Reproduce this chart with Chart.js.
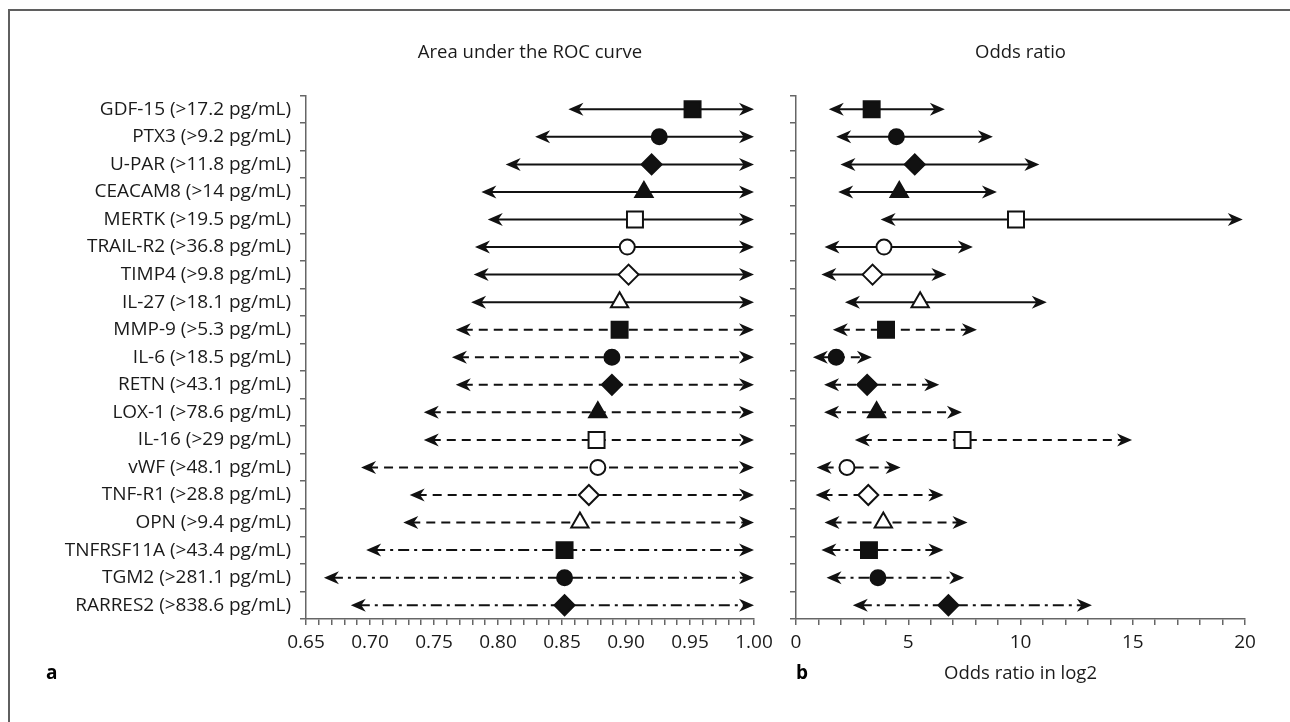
<!DOCTYPE html>
<html>
<head>
<meta charset="utf-8">
<script src="https://cdn.jsdelivr.net/npm/chart.js@4.4.1/dist/chart.umd.min.js"></script>
<style>
    html, body { margin: 0; background: #fff; overflow: hidden; }
    #wrap { position: relative; width: 1290px; height: 722px; }
    canvas { position: absolute; top: 0; }
    #auc-chart { left: 0; }
    #or-chart { left: 780px; }
</style>
</head>
<body>
<div id="wrap">
    <canvas id="auc-chart" width="780" height="722"></canvas>
    <canvas id="or-chart" width="510" height="722"></canvas>
</div>
<script>
// biomarker labels (with cut-off values)
const markers = [
    "GDF-15 (>17.2 pg/mL)", "PTX3 (>9.2 pg/mL)", "U-PAR (>11.8 pg/mL)", "CEACAM8 (>14 pg/mL)",
    "MERTK (>19.5 pg/mL)", "TRAIL-R2 (>36.8 pg/mL)", "TIMP4 (>9.8 pg/mL)", "IL-27 (>18.1 pg/mL)",
    "MMP-9 (>5.3 pg/mL)", "IL-6 (>18.5 pg/mL)", "RETN (>43.1 pg/mL)", "LOX-1 (>78.6 pg/mL)",
    "IL-16 (>29 pg/mL)", "vWF (>48.1 pg/mL)", "TNF-R1 (>28.8 pg/mL)", "OPN (>9.4 pg/mL)",
    "TNFRSF11A (>43.4 pg/mL)", "TGM2 (>281.1 pg/mL)", "RARRES2 (>838.6 pg/mL)"
];

// area under the ROC curve, with confidence limits
const aucValue = [0.952, 0.926, 0.920, 0.914, 0.907, 0.901, 0.902, 0.895, 0.895, 0.889,
                  0.889, 0.878, 0.877, 0.878, 0.871, 0.864, 0.852, 0.852, 0.852];
const aucLower = [0.855, 0.829, 0.806, 0.787, 0.792, 0.782, 0.781, 0.779, 0.767, 0.764,
                  0.767, 0.742, 0.742, 0.693, 0.731, 0.726, 0.697, 0.664, 0.685];
const aucUpper = [1.00, 1.00, 1.00, 1.00, 1.00, 1.00, 1.00, 1.00, 1.00, 1.00,
                  1.00, 1.00, 1.00, 1.00, 1.00, 1.00, 1.00, 1.00, 1.00];

// odds ratio (log2), with confidence limits
const orValue = [3.37, 4.47, 5.29, 4.60, 9.80, 3.92, 3.41, 5.53, 4.01, 1.79,
                 3.17, 3.59, 7.42, 2.27, 3.22, 3.89, 3.25, 3.65, 6.79];
const orLower = [1.46, 1.79, 1.98, 1.88, 3.77, 1.27, 1.13, 2.18, 1.64, 0.75,
                 1.25, 1.25, 2.62, 0.92, 0.87, 1.27, 1.13, 1.36, 2.53];
const orUpper = [6.63, 8.77, 10.84, 8.95, 19.9, 7.88, 6.70, 11.17, 8.06, 3.38,
                 6.38, 7.39, 14.97, 4.66, 6.57, 7.64, 6.57, 7.49, 13.18];

// axis tick labels
const aucTicks = ["0.65", "0.70", "0.75", "0.80", "0.85", "0.90", "0.95", "1.00"];
const orTicks = ["0", "5", "10", "15", "20"];

// marker look per row
const shapes = ["rect", "circle", "rectRot", "triangle", "rect", "circle", "rectRot", "triangle",
                "rect", "circle", "rectRot", "triangle", "rect", "circle", "rectRot", "triangle",
                "rect", "circle", "rectRot"];
const filled = [true, true, true, true, false, false, false, false,
                true, true, true, true, false, false, false, false,
                true, true, true];
const lineStyles = ["solid", "solid", "solid", "solid", "solid", "solid", "solid", "solid",
                    "dash", "dash", "dash", "dash", "dash", "dash", "dash", "dash",
                    "dashdot", "dashdot", "dashdot"];

const FONT = "'Open Sans', sans-serif";
const TEXT = "#1a1a1a";
const AXIS = "#666";
const radiusFor = { rect: 11.3, circle: 7.5, rectRot: 10, triangle: 10 };
const dashes = { solid: [], dash: [9, 6], dashdot: [11, 5, 3, 5] };

// draws the whisker lines with arrow heads at both ends, plus panel title, letter and frame
const whiskerPlugin = {
    id: "whiskers",
    beforeDatasetsDraw(chart, args, opts) {
        const ctx = chart.ctx;
        const x = chart.scales.x, y = chart.scales.y;
        ctx.save();
        ctx.strokeStyle = "#111";
        ctx.fillStyle = "#111";
        ctx.lineWidth = 2;
        for (let i = 0; i < opts.lower.length; i++) {
            let yp = y.getPixelForValue(i);
            let x1 = x.getPixelForValue(opts.lower[i]);
            let x2 = x.getPixelForValue(opts.upper[i]);
            ctx.setLineDash(dashes[lineStyles[i]]);
            ctx.beginPath();
            ctx.moveTo(x1 + 8, yp);
            ctx.lineTo(x2 - 8, yp);
            ctx.stroke();
            ctx.setLineDash([]);
            arrowHead(ctx, x1, yp, 1);
            arrowHead(ctx, x2, yp, -1);
        }
        ctx.restore();
    },
    afterDraw(chart, args, opts) {
        const ctx = chart.ctx;
        const area = chart.chartArea;
        ctx.save();
        // outer frame (top edge, plus left edge on the first panel)
        ctx.strokeStyle = "#5f5f5f";
        ctx.lineWidth = 2;
        ctx.beginPath();
        if (opts.frameLeft) {
            ctx.moveTo(9, chart.height);
            ctx.lineTo(9, 10);
        } else {
            ctx.moveTo(0, 10);
        }
        ctx.lineTo(chart.width, 10);
        ctx.stroke();
        ctx.textBaseline = "middle";
        // panel title, centred over the plot area
        ctx.font = "18.5px " + FONT;
        ctx.fillStyle = TEXT;
        ctx.textAlign = "center";
        ctx.fillText(opts.title, (area.left + area.right) / 2, 53);
        // panel letter
        ctx.font = "bold 19px " + FONT;
        ctx.fillStyle = "#000";
        ctx.textAlign = "left";
        ctx.fillText(opts.letter, opts.letterX, 674);
        ctx.restore();
    }
};

function arrowHead(ctx, tipX, tipY, dir) {
    ctx.beginPath();
    ctx.moveTo(tipX, tipY);
    ctx.lineTo(tipX + dir * 15, tipY - 6.5);
    ctx.lineTo(tipX + dir * 10.5, tipY);
    ctx.lineTo(tipX + dir * 15, tipY + 6.5);
    ctx.closePath();
    ctx.fill();
}

function buildChart(canvasId, values, lower, upper, opt) {
    let ctx = $id(canvasId).getContext("2d");
    return new Chart(ctx, {
        type: "scatter",
        data: {
            datasets: [{
                data: values.map((v, i) => ({ x: v, y: markers[i] })),
                pointStyle: c => shapes[c.dataIndex],
                pointRadius: c => radiusFor[shapes[c.dataIndex]],
                pointBackgroundColor: c => filled[c.dataIndex] ? "#111" : "#fff",
                pointBorderColor: "#111",
                pointBorderWidth: 2,
            }],
        },
        options: {
            responsive: false,
            animation: false,
            events: [],
            layout: { padding: { left: 0, right: opt.padRight, top: 95.5, bottom: 0 } },
            plugins: {
                legend: { display: false },
                tooltip: { enabled: false },
                title: { display: false },
                whiskers: {
                    lower: lower, upper: upper, frameLeft: opt.frameLeft,
                    title: opt.title, letter: opt.letter, letterX: opt.letterX,
                },
            },
            scales: {
                x: {
                    type: "linear",
                    min: opt.min,
                    max: opt.max,
                    afterFit: s => { s.height = 103; },
                    border: { color: AXIS, width: 1.5 },
                    grid: { drawOnChartArea: false, color: AXIS, tickLength: 6, lineWidth: 1.5 },
                    ticks: {
                        stepSize: opt.step,
                        autoSkip: false,
                        maxRotation: 0,
                        padding: 6,
                        color: TEXT,
                        font: { family: FONT, size: 19 },
                        callback: opt.tickLabel,
                    },
                    title: {
                        display: !!opt.xTitle,
                        text: opt.xTitle || "",
                        color: TEXT,
                        font: { family: FONT, size: 18.5 },
                        padding: { top: 0, bottom: 37 },
                    },
                },
                y: {
                    type: "category",
                    labels: markers,
                    offset: true,
                    afterFit: s => { s.width = opt.yWidth; },
                    border: { color: AXIS, width: 1.5 },
                    grid: { offset: true, drawOnChartArea: false, color: AXIS, tickLength: 6, lineWidth: 1.5 },
                    ticks: {
                        display: opt.showLabels,
                        padding: 9,
                        color: TEXT,
                        font: { family: FONT, size: 19 },
                    },
                },
            },
        },
        plugins: [whiskerPlugin],
    });
}

function $id(id) { return document.getElementById(id); }

// panel a: area under the ROC curve
buildChart("auc-chart", aucValue, aucLower, aucUpper, {
    title: "Area under the ROC curve",
    min: 0.65, max: 1.0, step: 0.01,
    tickLabel: v => {
        let s = v.toFixed(2);
        return aucTicks.includes(s) ? s : "";
    },
    yWidth: 306, padRight: 26, showLabels: true,
    letter: "a", letterX: 46, frameLeft: true,
});

// panel b: odds ratio in log2
buildChart("or-chart", orValue, orLower, orUpper, {
    title: "Odds ratio",
    xTitle: "Odds ratio in log2",
    min: 0, max: 20, step: 1,
    tickLabel: v => {
        let s = String(Math.round(v));
        return orTicks.includes(s) && Math.abs(v - Math.round(v)) < 1e-6 ? s : "";
    },
    yWidth: 16, padRight: 45, showLabels: false,
    letter: "b", letterX: 16, frameLeft: false,
});
</script>
</body>
</html>
